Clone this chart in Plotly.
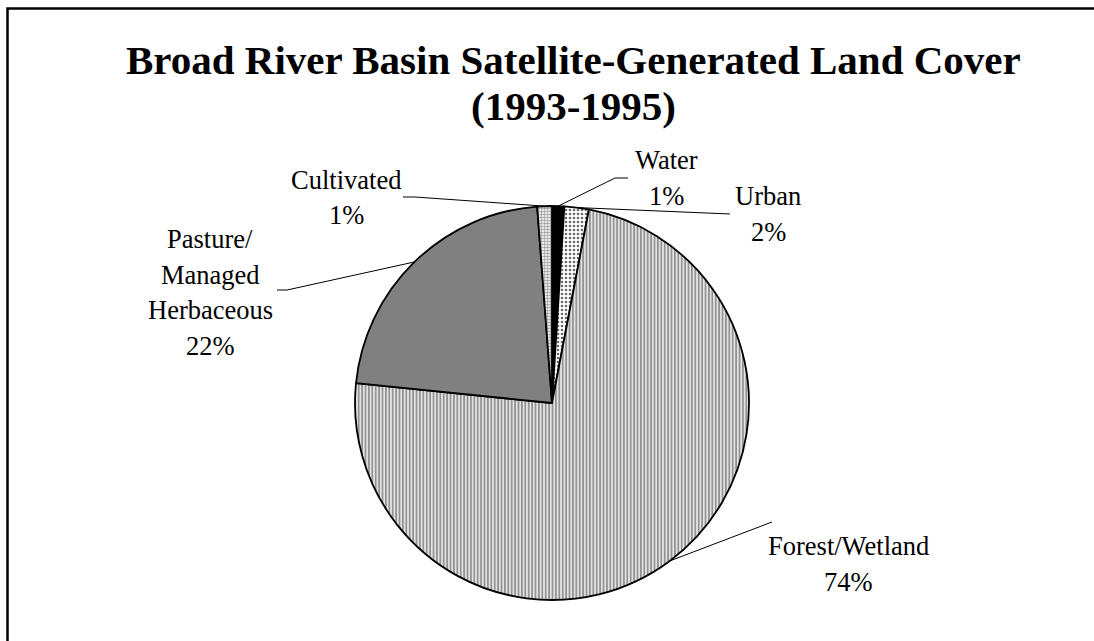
import math
import plotly.graph_objects as go

# ---- data ----
categories = ["Water", "Urban", "Forest/Wetland", "Pasture/<br>Managed<br>Herbaceous", "Cultivated"]
values = [1.0, 2.0, 73.6, 22.2, 1.2]
title_lines = ["Broad River Basin Satellite-Generated Land Cover", "(1993-1995)"]

# ---- styling / layout constants ----
W, H = 1200, 700                   # canvas a bit larger than the window; chart frame runs off-screen
CX, CY, R = 552, 403, 197          # pie centre / radius in pixels
FONT = "Liberation Serif, Times New Roman, serif"
LINE_H = 35.5
LABEL_SIZE = 26.5

colors = ["#000000", "#ffffff", "#e6e6e6", "#808080", "#ffffff"]
patterns = [
    dict(shape=""),
    dict(shape=".", fgcolor="#6a6a6a", bgcolor="#ffffff", size=4, solidity=0.35),
    dict(shape="|", fgcolor="#8a8a8a", bgcolor="#e2e2e2", size=3.4, solidity=0.45),
    dict(shape=""),
    dict(shape=".", fgcolor="#9a9a9a", bgcolor="#ffffff", size=3, solidity=0.5),
]

# first-line centre of each label (px) and leader elbow / end (px)
label_pos = [(666, 160), (768, 196), (848, 546), (210, 239), (346, 180)]
leader_pts = [[(615, 178), (628, 178)],
              [(730, 214), (730, 214)],
              [(772, 522), (772, 522)],
              [(287, 290), (277, 290)],
              [(415, 197), (403, 197)]]
title_pos = [(573, 60), (573, 106)]

def px(x, y):
    return x / W, 1 - y / H

def path_of(pts):
    return "M " + " L ".join(f"{px(x, y)[0]:.5f},{px(x, y)[1]:.5f}" for x, y in pts)

total = sum(values)
fig = go.Figure()
fig.add_trace(go.Pie(
    labels=[c.replace("<br>", " ") for c in categories], values=values, sort=False,
    direction="clockwise", rotation=0,
    textinfo="none", hoverinfo="label+percent",
    marker=dict(colors=colors, line=dict(color="black", width=1.8),
                pattern=dict(shape=[p.get("shape", "") for p in patterns],
                             fgcolor=[p.get("fgcolor", "black") for p in patterns],
                             bgcolor=[p.get("bgcolor", c) for p, c in zip(patterns, colors)],
                             size=[p.get("size", 8) for p in patterns],
                             solidity=[p.get("solidity", 0.3) for p in patterns],
                             fillmode="replace")),
    domain=dict(x=[(CX - R) / W, (CX + R) / W], y=[(H - CY - R) / H, (H - CY + R) / H]),
    showlegend=False,
))

shapes = []
annotations = []
cum = 0.0
for i, (cat, v) in enumerate(zip(categories, values)):
    mid = (cum + v / 2) / total * 2 * math.pi
    cum += v
    sx = CX + R * math.sin(mid)
    sy = CY - R * math.cos(mid)
    shapes.append(dict(type="path", xref="paper", yref="paper",
                       path=path_of([(sx, sy)] + leader_pts[i]),
                       line=dict(color="black", width=1)))
    pct = round(v / total * 100)
    lines = cat.split("<br>") + [f"{pct}%"]
    x0, y0 = label_pos[i]
    for k, ln in enumerate(lines):
        lx, ly = px(x0, y0 + k * LINE_H)
        annotations.append(dict(x=lx, y=ly, xref="paper", yref="paper", showarrow=False,
                                text=ln, xanchor="center", yanchor="middle",
                                font=dict(family=FONT, size=LABEL_SIZE, color="black")))

for (tx, ty), t in zip(title_pos, title_lines):
    lx, ly = px(tx, ty)
    annotations.append(dict(x=lx, y=ly, xref="paper", yref="paper", showarrow=False,
                            text=f"<b>{t}</b>", xanchor="center", yanchor="middle",
                            font=dict(family=FONT, size=41, color="black")))

# outer chart frame (only top and left edges fall inside the visible window)
shapes.append(dict(type="rect", xref="paper", yref="paper",
                   x0=px(7.5, 0)[0], x1=px(1140, 0)[0], y0=px(0, 670)[1], y1=px(0, 8.5)[1],
                   line=dict(color="black", width=2.5)))

fig.update_layout(
    width=W, height=H,
    margin=dict(l=0, r=0, t=0, b=0),
    paper_bgcolor="white", plot_bgcolor="white",
    shapes=shapes, annotations=annotations,
)

fig.write_html(
    "out.html", config={"displayModeBar": False},
    post_script=("document.body.style.margin='0';document.body.style.padding='0';"
                 "document.body.style.overflow='hidden';"
                 "document.documentElement.style.overflow='hidden';"))
